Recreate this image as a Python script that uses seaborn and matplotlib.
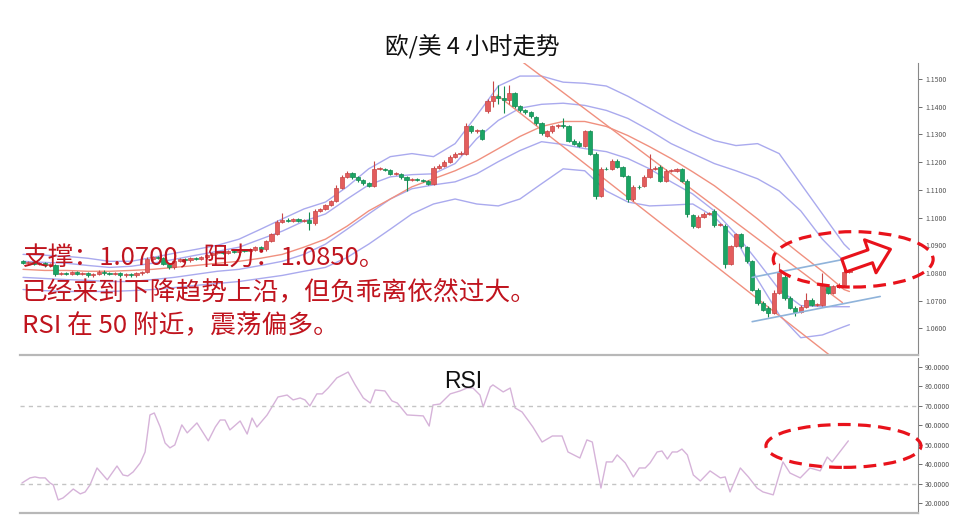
import numpy as np
import pandas as pd
import matplotlib
matplotlib.use("Agg")
import matplotlib.pyplot as plt
import matplotlib.patches as mpatches
import seaborn as sns

# 4h candles, prices in pips (price * 10000)
opens = [
    10842, 10835, 10838, 10831, 10835, 10827, 10827, 10795, 10798, 10795,
    10802, 10795, 10798, 10791, 10795, 10805, 10798, 10795, 10798, 10791,
    10795, 10791, 10798, 10802, 10849, 10856, 10853, 10831, 10820, 10842,
    10849, 10845, 10853, 10849, 10856, 10864, 10871, 10875, 10871, 10878,
    10875, 10882, 10878, 10882, 10893, 10885, 10915, 10940, 10984, 10991,
    10987, 10995, 10987, 10991, 10980, 11024, 11031, 11045, 11060, 11107,
    11147, 11162, 11147, 11136, 11125, 11115, 11176, 11176, 11173, 11158,
    11158, 11147, 11136, 11140, 11136, 11133, 11122, 11180, 11187, 11202,
    11220, 11231, 11231, 11329, 11311, 11315, 11384, 11420, 11438, 11431,
    11424, 11449, 11402, 11387, 11380, 11362, 11340, 11296, 11311, 11329,
    11333, 11329, 11278, 11271, 11260, 11311, 11231, 11078, 11176, 11176,
    11205, 11184, 11151, 11067, 11111, 11115, 11147, 11176, 11184, 11133,
    11169, 11169, 11176, 11133, 11009, 10965, 11002, 11013, 11024, 10973,
    10969, 10831, 10896, 10940, 10893, 10842, 10740, 10693, 10675, 10656,
    10729, 10787, 10711, 10675, 10660, 10678, 10704, 10685, 10685, 10751,
    10729, 10751, 10758, 10802,
]
closes = [
    10835, 10838, 10831, 10835, 10827, 10831, 10795, 10798, 10795, 10802,
    10795, 10798, 10791, 10795, 10805, 10798, 10795, 10798, 10791, 10795,
    10791, 10798, 10802, 10849, 10856, 10853, 10831, 10820, 10842, 10849,
    10845, 10853, 10849, 10856, 10864, 10871, 10875, 10871, 10878, 10875,
    10882, 10878, 10885, 10893, 10885, 10915, 10940, 10984, 10991, 10987,
    10995, 10987, 10991, 10980, 11024, 11031, 11045, 11060, 11107, 11147,
    11162, 11147, 11136, 11125, 11115, 11176, 11178, 11173, 11158, 11160,
    11147, 11136, 11140, 11136, 11133, 11122, 11180, 11187, 11202, 11220,
    11231, 11233, 11329, 11311, 11315, 11285, 11420, 11438, 11431, 11424,
    11449, 11402, 11387, 11380, 11365, 11340, 11304, 11311, 11329, 11333,
    11329, 11278, 11267, 11260, 11311, 11231, 11078, 11176, 11174, 11205,
    11184, 11151, 11067, 11111, 11109, 11147, 11176, 11180, 11133, 11169,
    11173, 11176, 11133, 11013, 10969, 11002, 11013, 11016, 10973, 10976,
    10831, 10896, 10940, 10896, 10842, 10740, 10693, 10667, 10656, 10729,
    10805, 10711, 10675, 10660, 10678, 10704, 10685, 10687, 10751, 10729,
    10751, 10758, 10802, 10838,
]
up_wick = [
    4, 4, 4, 4, 4, 4, 4, 4, 4, 4,
    4, 4, 4, 4, 6, 4, 4, 4, 4, 4,
    4, 4, 4, 8, 4, 4, 4, 4, 4, 4,
    4, 4, 4, 4, 4, 4, 4, 4, 4, 4,
    4, 4, 4, 4, 4, 4, 4, 6, 25, 6,
    4, 4, 4, 30, 6, 4, 4, 4, 10, 6,
    6, 4, 4, 4, 4, 28, 6, 4, 4, 4,
    4, 4, 4, 4, 4, 4, 8, 6, 6, 6,
    6, 6, 12, 6, 6, 6, 8, 55, 40, 45,
    30, 6, 6, 6, 4, 4, 4, 4, 6, 6,
    25, 4, 4, 4, 6, 4, 4, 6, 6, 8,
    6, 4, 4, 6, 6, 6, 55, 6, 5, 6,
    4, 4, 4, 6, 4, 6, 6, 4, 6, 6,
    6, 6, 6, 6, 4, 4, 4, 4, 4, 8,
    30, 8, 4, 4, 6, 25, 6, 6, 50, 6,
    6, 6, 15, 8,
]
low_wick = [
    4, 4, 4, 4, 4, 4, 6, 4, 4, 4,
    4, 4, 4, 4, 4, 4, 4, 4, 4, 4,
    4, 4, 4, 4, 4, 4, 4, 4, 4, 4,
    4, 4, 4, 4, 4, 4, 4, 4, 4, 4,
    4, 4, 4, 4, 4, 4, 4, 4, 4, 4,
    4, 4, 4, 25, 6, 4, 4, 4, 4, 4,
    4, 6, 6, 6, 6, 4, 4, 4, 4, 4,
    6, 40, 4, 4, 4, 6, 4, 4, 4, 4,
    4, 4, 4, 6, 6, 6, 6, 20, 20, 45,
    15, 6, 6, 6, 6, 6, 6, 4, 4, 4,
    4, 6, 6, 6, 4, 6, 10, 4, 4, 4,
    4, 6, 12, 8, 6, 4, 4, 4, 6, 4,
    4, 4, 6, 10, 6, 4, 4, 4, 6, 4,
    12, 4, 4, 6, 6, 6, 8, 6, 15, 4,
    4, 10, 6, 15, 6, 4, 6, 4, 4, 6,
    6, 4, 4, 4,
]

# bands and moving average, read every 4 candles (pips)
band_idx = [0, 4, 8, 12, 16, 20, 24, 28, 32, 36, 40, 44, 48, 52, 56, 60, 64, 68, 72, 76,
            80, 84, 88, 92, 96, 100, 104, 108, 112, 116, 120, 124, 128, 132, 136, 140, 144, 148, 152, 153]
band_outer_up = [10867, 10864, 10860, 10853, 10842, 10842, 10856, 10871, 10885, 10900,
                 10922, 10958, 10995, 11031, 11056, 11111, 11176, 11220, 11231, 11220,
                 11267, 11369, 11475, 11511, 11511, 11489, 11485, 11475, 11438, 11395,
                 11351, 11311, 11278, 11260, 11267, 11231, 11122, 11013, 10904, 10885]
band_inner_up = [10842, 10838, 10835, 10827, 10820, 10824, 10835, 10849, 10864, 10878,
                 10893, 10922, 10951, 10987, 11013, 11067, 11118, 11147, 11155, 11158,
                 11195, 11285, 11351, 11395, 11409, 11413, 11405, 11387, 11358, 11315,
                 11267, 11231, 11195, 11169, 11140, 11096, 11024, 10922, 10842, 10831]
moving_avg = [10813, 10809, 10809, 10806, 10806, 10809, 10813, 10820, 10827, 10835,
              10842, 10853, 10867, 10893, 10922, 10969, 11024, 11067, 11111, 11140,
              11169, 11205, 11249, 11293, 11329, 11347, 11347, 11329, 11296, 11256,
              11213, 11165, 11115, 11056, 10995, 10929, 10867, 10806, 10740, 10733]
band_inner_low = [10784, 10780, 10776, 10773, 10769, 10769, 10776, 10784, 10795, 10806,
                  10813, 10827, 10842, 10867, 10904, 10958, 11013, 11067, 11104, 11118,
                  11129, 11158, 11202, 11242, 11274, 11264, 11249, 11238, 11213, 11176,
                  11129, 11085, 11024, 10940, 10842, 10740, 10682, 10678, 10678, 10678]
band_outer_low = [10740, 10736, 10733, 10733, 10733, 10736, 10740, 10747, 10755, 10762,
                  10769, 10780, 10791, 10806, 10820, 10856, 10904, 10958, 11013, 11049,
                  11067, 11049, 11042, 11067, 11122, 11176, 11169, 11096, 11056, 11042,
                  11045, 11049, 11002, 10922, 10776, 10649, 10566, 10576, 10606, 10613]

# hand drawn trend lines (candle index, price)
channel_top_x = [92.0, 151.7]
channel_top_y = [1.1569, 1.0693]
channel_bot_x = [87.8, 149.8]
channel_bot_y = [1.1442, 1.0496]
support_x = [135.0, 158.7]
support_y = [1.0624, 1.0715]
resist_x = [135.0, 158.7]
resist_y = [1.0784, 1.0875]

# RSI line (candle index, value)
rsi_pos = [-0.2, 1.3, 2.2, 3.1, 4.1, 5.0, 5.6, 6.5, 7.4, 8.3, 9.3, 10.6, 11.5, 12.4, 13.7,
           15.6, 17.4, 18.5, 19.4, 20.4, 21.7, 22.6, 23.5, 24.3, 25.4, 26.3, 27.2, 28.1,
           29.4, 30.4, 32.2, 34.3, 35.6, 36.5, 37.4, 38.3, 40.2, 41.5, 42.4, 43.3, 45.2,
           47.2, 48.9, 50.0, 51.3, 52.2, 53.1, 54.4, 55.4, 56.5, 58.1, 60.2, 61.5, 63.0,
           64.3, 65.2, 67.0, 68.3, 69.3, 71.1, 74.1, 75.2, 75.9, 77.2, 79.1, 80.9, 82.2,
           83.3, 84.6, 85.2, 86.5, 87.0, 88.9, 90.2, 91.1, 92.4, 94.4, 96.1, 98.0, 99.8,
           100.9, 103.1, 104.4, 105.4, 107.0, 108.0, 109.1, 110.0, 111.5, 113.0, 114.1,
           115.2, 116.1, 117.4, 118.3, 119.3, 120.2, 121.1, 122.0, 123.0, 124.1, 125.4,
           127.2, 129.1, 130.0, 130.9, 132.8, 134.3, 135.9, 137.0, 138.9, 140.7, 142.0,
           143.9, 145.7, 147.6, 148.9, 149.8, 152.8]
rsi_val = [30.5, 33.1, 33.6, 33.1, 33.1, 30.5, 29.5, 21.8, 22.8, 24.9, 27.4, 24.9, 25.9, 29.5, 38.2,
           32.1, 39.2, 34.6, 34.1, 36.2, 40.8, 46.4, 65.4, 66.4, 59.2, 51.0, 48.5, 50.0,
           60.3, 56.2, 61.3, 52.1, 59.2, 62.8, 62.8, 57.7, 62.3, 55.6, 63.8, 59.2, 65.4,
           74.6, 75.6, 73.1, 74.1, 73.1, 70.0, 76.2, 76.2, 79.2, 84.4, 87.4, 80.8, 74.1,
           71.5, 78.2, 77.7, 72.6, 71.5, 65.4, 64.9, 59.7, 70.5, 71.0, 76.2, 77.7, 79.2,
           79.2, 75.6, 69.5, 79.7, 80.8, 77.2, 79.2, 69.0, 66.9, 59.2, 51.5, 54.6, 54.6,
           46.4, 43.3, 52.6, 51.5, 27.9, 41.3, 41.3, 44.9, 40.8, 33.6, 38.2,
           38.2, 40.8, 46.4, 46.9, 42.8, 46.4, 46.4, 47.9, 44.9, 34.6, 31.5,
           36.7, 33.1, 33.6, 25.9, 38.2, 33.6, 27.9, 25.9, 24.4, 41.3, 35.6,
           33.1, 38.2, 36.7, 43.8, 41.3, 52.1]

price_ticks = [1.06, 1.07, 1.08, 1.09, 1.10, 1.11, 1.12, 1.13, 1.14, 1.15]
rsi_ticks = [20, 30, 40, 50, 60, 70, 80, 90]
rsi_levels = [30, 70]
time_ticks = [10.6, 22.6, 34.3, 46.1, 56.3, 70.4, 82.2, 93.3, 105.4, 116.5, 129.1, 141.1, 152.8]

title = "欧/美 4 小时走势"
notes = ["支撑：1.0700，阻力：1.0850。",
         "已经来到下降趋势上沿，但负乖离依然过大。",
         "RSI 在 50 附近，震荡偏多。"]

sns.set_theme(style="white")
plt.rcParams['font.family'] = ['Noto Sans CJK SC', 'DejaVu Sans']

df = pd.DataFrame({"open": np.array(opens) / 1e4, "close": np.array(closes) / 1e4})
df["idx"] = np.arange(len(df))
df["high"] = df[["open", "close"]].max(axis=1) + np.array(up_wick) / 1e4
df["low"] = df[["open", "close"]].min(axis=1) - np.array(low_wick) / 1e4
df["up"] = df["close"] >= df["open"]

bands = pd.DataFrame({"idx": band_idx,
                      "outer_up": np.array(band_outer_up) / 1e4,
                      "inner_up": np.array(band_inner_up) / 1e4,
                      "ma": np.array(moving_avg) / 1e4,
                      "inner_low": np.array(band_inner_low) / 1e4,
                      "outer_low": np.array(band_outer_low) / 1e4})

RED = "#e35d5d"
GREEN = "#1ba564"
BAND = "#aaaaee"
SALMON = "#f0907f"
ANNO = "#e8121b"

fig = plt.figure(figsize=(9.6, 5.28), dpi=100)
ax = fig.add_axes([20 / 960, 1 - 355 / 528, 898 / 960, 292 / 528])
ax2 = fig.add_axes([20 / 960, 15 / 528, 898 / 960, 155 / 528])

# bands first, candles on top
for col in ["outer_up", "inner_up", "inner_low", "outer_low"]:
    sns.lineplot(data=bands, x="idx", y=col, ax=ax, color=BAND, lw=1.0, legend=False)
sns.lineplot(data=bands, x="idx", y="ma", ax=ax, color=SALMON, lw=1.0, legend=False)

for xs, ys in [(channel_top_x, channel_top_y), (channel_bot_x, channel_bot_y)]:
    ax.plot(xs, ys, color=SALMON, lw=1.0)

colors = np.where(df["up"], RED, GREEN)
edges = np.where(df["up"], "#c84646", "#148a52")
ax.vlines(df["idx"], df["low"], df["high"], colors=edges, lw=0.8, zorder=3)
body = (df["close"] - df["open"]).abs().clip(lower=0.00012)
ax.bar(df["idx"], body, bottom=df[["open", "close"]].min(axis=1), width=0.78,
       color=colors, edgecolor=edges, lw=0.5, zorder=4)

for xs, ys in [(support_x, support_y), (resist_x, resist_y)]:
    ax.plot(xs, ys, color="#8fb3da", lw=1.2, zorder=5)

ax.add_patch(mpatches.Ellipse((153.7, 1.0849), 29.6, 0.0200, fill=False, ec=ANNO,
                              lw=2.3, ls=(0, (4, 2.3)), clip_on=False, zorder=6))
ax.add_patch(mpatches.FancyArrowPatch((152.0, 1.0827), (160.6, 1.08855),
                                      arrowstyle="simple,head_length=1.1,head_width=1.8,tail_width=0.7",
                                      mutation_scale=14, fc="white", ec=ANNO, lw=2.2,
                                      shrinkA=0, shrinkB=0, clip_on=False, zorder=7))

ax.set_xlim(-0.56, 165.7)
ax.set_ylim(1.05036, 1.15582)
ax.set_xticks([])
ax.set_yticks(price_ticks)
ax.set_yticklabels([f"{t:.4f}" for t in price_ticks])
ax.set_xlabel("")
ax.set_ylabel("")

# RSI panel
sns.lineplot(x=rsi_pos, y=rsi_val, ax=ax2, color="#d6b3d9", lw=1.0, legend=False)
for lv in rsi_levels:
    ax2.axhline(lv, color="#c4c4c4", lw=1.0, ls=(0, (3, 3)))
ax2.add_patch(mpatches.Ellipse((151.9, 49.5), 28.7, 22, fill=False, ec=ANNO,
                               lw=2.3, ls=(0, (4, 2.3)), clip_on=False, zorder=6))
ax2.set_xlim(-0.56, 165.7)
ax2.set_ylim(15.1, 94.6)
ax2.set_yticks(rsi_ticks)
ax2.set_yticklabels([f"{t:.4f}" for t in rsi_ticks])
ax2.set_xticks(time_ticks)
ax2.set_xticklabels([])

for a in (ax, ax2):
    a.yaxis.tick_right()
    a.tick_params(axis="y", labelsize=5, colors="#555555", length=3, width=0.6, pad=2, direction="out")
    a.tick_params(axis="x", length=3, width=0.6, colors="#999999", direction="out")
    a.spines["left"].set_visible(False)
    a.spines["top"].set_visible(False)
    a.spines["right"].set_color("#888888")
    a.spines["right"].set_linewidth(0.8)
    a.spines["bottom"].set_color("#b8b8b8")
    a.spines["bottom"].set_linewidth(1.6)
ax.tick_params(axis="x", length=0)

fig.text(472 / 960, 1 - 47 / 528, title, fontsize=17, ha="center", va="center", color="#111111")
fig.text(463 / 960, 1 - 381 / 528, "RSI", fontsize=16.5, ha="center", va="center",
         family=["Liberation Sans", "DejaVu Sans"], color="#111111")
for k, line in enumerate(notes):
    fig.text(22 / 960, 1 - (258 + 34 * k) / 528, line, fontsize=18.5, ha="left", va="center",
             color="#c0141e", zorder=10)

fig.savefig("out.png", dpi=100)
